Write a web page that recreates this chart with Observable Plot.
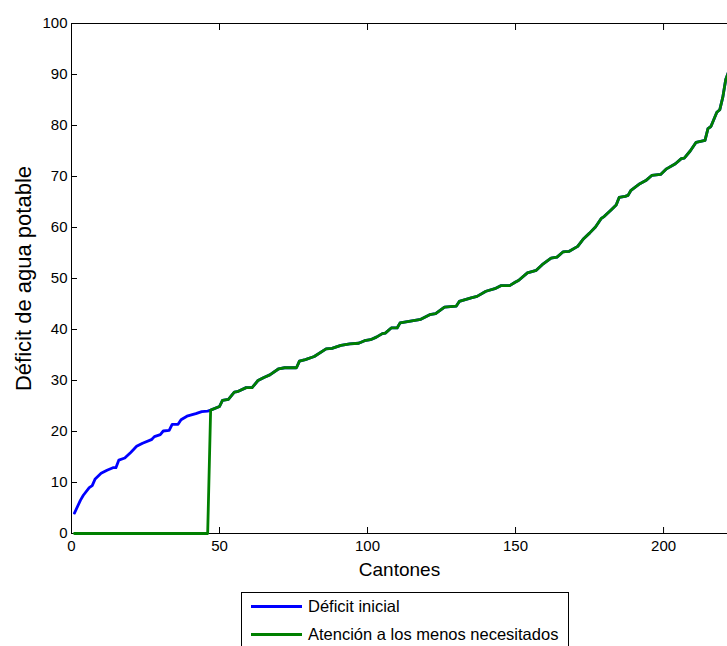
<!DOCTYPE html>
<html>
<head>
<meta charset="utf-8">
<script src="https://cdn.jsdelivr.net/npm/d3@7"></script>
<script src="https://cdn.jsdelivr.net/npm/@observablehq/plot@0.6"></script>
<style>
  body { margin: 0; background: #fff; font-family: "Liberation Sans", Arial, sans-serif; }
  #wrap { position: relative; width: 727px; height: 646px; overflow: hidden; }
  #legend { position: absolute; left: 241px; top: 592px; width: 326px; height: 80px; border: 1px solid #000; background: #fff; }
  .row { position: absolute; left: 0; height: 20px; width: 100%; }
  .sw { position: absolute; left: 9px; top: 9px; width: 51px; height: 2.5px; }
  .lab { position: absolute; left: 66px; top: 0; font-size: 16.5px; line-height: 20px; color: #000; white-space: nowrap; }
</style>
</head>
<body>
<div id="wrap">
  <div id="chart"></div>
  <div id="legend"></div>
</div>
<script>
// ---- data ----
const cantones = [1,3,4,6,7,8,10,12,14,15,16,18,20,22,24,27,28,30,31,33,34,36,37,39,42,44,46,47,
  50,51,53,55,56,59,61,63,65,67,70,72,76,77,79,82,86,88,91,94,97,99,
  101,103,105,106,108,110,111,114,118,121,123,126,130,131,135,137,140,143,145,148,150,151,
  154,157,159,162,164,166,168,171,173,175,177,179,180,182,184,185,187,188,189,192,194,196,199,
  201,204,206,207,209,211,214,215,216,218,219,220,221,222];
const deficitInicial = [4.0,6.5,7.5,9.0,9.4,10.7,11.8,12.4,12.9,12.9,14.4,14.8,15.9,17.1,17.7,18.4,19.0,19.4,20.1,20.2,21.4,21.4,22.3,23.0,23.5,23.9,24.0,24.2,
  24.9,26.1,26.3,27.7,27.8,28.6,28.6,30.0,30.6,31.1,32.3,32.5,32.5,33.8,34.1,34.7,36.2,36.3,36.9,37.2,37.3,37.8,
  38.0,38.5,39.2,39.3,40.3,40.3,41.3,41.6,42.0,42.9,43.1,44.4,44.6,45.5,46.2,46.5,47.5,48.0,48.6,48.6,49.3,49.6,
  51.1,51.6,52.7,54.0,54.2,55.2,55.3,56.3,57.8,58.9,60.1,61.8,62.2,63.3,64.4,65.9,66.1,66.3,67.3,68.6,69.2,70.2,70.4,
  71.5,72.5,73.5,73.6,75.0,76.7,77.1,79.4,79.8,82.6,83.1,85.5,89.0,90.6];
// "Atención a los menos necesitados": zero for the first cantons, then equal to the initial deficit
const atencionCeroHasta = 46;
const atencionInicio = 47;

const xTicks = [0, 50, 100, 150, 200];
const yTicks = [0, 10, 20, 30, 40, 50, 60, 70, 80, 90, 100];
const xDomain = [0, 221.6];
const yDomain = [0, 100];

const series1 = cantones.map((x, i) => ({x, y: deficitInicial[i]}));
const series2 = [{x: cantones[0], y: 0}, {x: atencionCeroHasta, y: 0}]
  .concat(series1.filter(d => d.x >= atencionInicio));

const font = "Liberation Sans, Arial, sans-serif";
const chart = Plot.plot({
  width: 727,
  height: 590,
  marginLeft: 71,
  marginRight: 0,
  marginTop: 23,
  marginBottom: 57,
  style: {fontFamily: font, fontSize: "15px", background: "#fff", color: "#000", overflow: "visible"},
  x: {domain: xDomain, ticks: xTicks},
  y: {domain: yDomain, ticks: yTicks},
  marks: [
    Plot.ruleY([yDomain[0], yDomain[1]], {stroke: "#000", strokeWidth: 1}),
    Plot.ruleX([xDomain[0]], {stroke: "#000", strokeWidth: 1}),
    // inward tick marks
    Plot.axisY({anchor: "left", ticks: yTicks, tickSize: 6, dx: 6, tickFormat: () => "", label: null}),
    Plot.axisX({anchor: "bottom", ticks: xTicks, tickSize: 6, dy: -6, tickFormat: () => "", label: null}),
    Plot.axisX({anchor: "top", ticks: xTicks, tickSize: 6, dy: 6, tickFormat: () => "", label: null}),
    // tick labels
    Plot.axisY({anchor: "left", ticks: yTicks, tickSize: 0, tickPadding: 4, label: null, fontSize: 15}),
    Plot.axisX({anchor: "bottom", ticks: xTicks, tickSize: 0, tickPadding: 7, label: null, fontSize: 15}),
    // axis titles
    Plot.text(["Cantones"], {frameAnchor: "bottom", dy: 42, fontSize: 19, fill: "#000"}),
    Plot.text(["Déficit de agua potable"], {frameAnchor: "left", textAnchor: "middle", dx: -48, rotate: -90, fontSize: 22, fill: "#000"}),
    // lines
    Plot.line(series1, {x: "x", y: "y", stroke: "#0000ff", strokeWidth: 2.8}),
    Plot.line(series2, {x: "x", y: "y", stroke: "#008000", strokeWidth: 2.8})
  ]
});
document.getElementById("chart").appendChild(chart);

// legend
const legendItems = [
  {label: "Déficit inicial", color: "#0000ff"},
  {label: "Atención a los menos necesitados", color: "#008000"}
];
const legend = document.getElementById("legend");
legendItems.forEach((it, i) => {
  const row = document.createElement("div");
  row.className = "row";
  row.style.top = (3 + i * 28) + "px";
  const sw = document.createElement("div");
  sw.className = "sw";
  sw.style.background = it.color;
  const lab = document.createElement("div");
  lab.className = "lab";
  lab.textContent = it.label;
  row.appendChild(sw);
  row.appendChild(lab);
  legend.appendChild(row);
});
</script>
</body>
</html>
